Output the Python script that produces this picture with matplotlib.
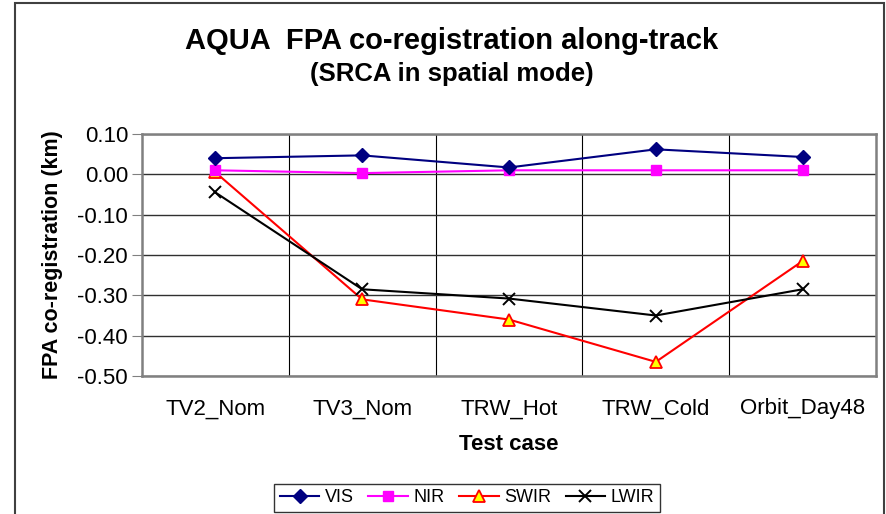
import matplotlib
matplotlib.use("Agg")
from matplotlib import pyplot as plt
from matplotlib.patches import Rectangle
import numpy as np

categories = ["TV2_Nom", "TV3_Nom", "TRW_Hot", "TRW_Cold", "Orbit_Day48"]
yticks = [-0.50, -0.40, -0.30, -0.20, -0.10, 0.00, 0.10]
vis = [0.040, 0.047, 0.017, 0.062, 0.043]
nir = [0.010, 0.003, 0.010, 0.010, 0.010]
swir = [0.005, -0.310, -0.360, -0.465, -0.215]
lwir = [-0.045, -0.285, -0.308, -0.350, -0.285]

plt.rcParams["font.family"] = ["Liberation Sans", "DejaVu Sans"]

fig = plt.figure(figsize=(8.86, 5.14), dpi=100)
ax = fig.add_axes([142 / 886, 1 - 376 / 514, (876 - 142) / 886, (376 - 134) / 514])

x = np.arange(len(categories))
ax.plot(x, vis, color="#000080", lw=1.5, marker="D", ms=7, mfc="#000080", mec="#000080", label="VIS", zorder=5)
ax.plot(x, nir, color="#FF00FF", lw=1.5, marker="s", ms=7, mfc="#FF00FF", mec="#FF00FF", label="NIR", zorder=4)
ax.plot(x, swir, color="#FF0000", lw=1.5, marker="^", ms=8, mfc="#FFFF00", mec="#FF0000", mew=1.3, label="SWIR", zorder=3)
ax.plot(x, lwir, color="#000000", lw=1.5, marker="x", ms=8, mew=1.4, label="LWIR", zorder=3)

ax.set_xlim(-0.5, len(categories) - 0.5)
ax.set_ylim(-0.5, 0.1)
ax.set_yticks(yticks)
ax.set_yticklabels([f"{v:.2f}" for v in yticks], fontsize=16)
ax.set_xticks(x)
ax.set_xticklabels(categories, fontsize=16)
ax.set_xticks(np.arange(0.5, len(categories) - 1, 1), minor=True)
ax.tick_params(axis="x", which="both", length=0, pad=16)
ax.tick_params(axis="y", length=7, color="#808080", pad=3)

ax.grid(axis="y", color="#303030", lw=1.0)
ax.grid(axis="x", which="minor", color="#000000", lw=0.8)
ax.set_axisbelow(True)
for s in ax.spines.values():
    s.set_color("#808080")
    s.set_linewidth(1.8)

ax.set_xlabel("Test case", fontsize=16, fontweight="bold", labelpad=11)
ax.set_ylabel("FPA co-registration (km)", fontsize=15.5, fontweight="bold")
ax.yaxis.set_label_coords((63 - 142) / (876 - 142), 0.5)

fig.text(452 / 886, 1 - 41 / 514, "AQUA  FPA co-registration along-track", ha="center", va="center",
         fontsize=21, fontweight="bold")
fig.text(452 / 886, 1 - 74 / 514, "(SRCA in spatial mode)", ha="center", va="center",
         fontsize=18.5, fontweight="bold")

leg = fig.legend(loc="center", bbox_to_anchor=(467 / 886, 1 - 498 / 514), ncol=4, fontsize=13,
                 frameon=True, fancybox=False, edgecolor="#000000", handlelength=2.2,
                 handletextpad=0.3, columnspacing=0.8, borderpad=0.3, borderaxespad=0)
leg.get_frame().set_linewidth(1.0)

# outer chart frame
fig.patches.append(Rectangle((15 / 886, -0.05), (884 - 15) / 886, 1.05 - 3 / 514,
                             transform=fig.transFigure, fill=False, edgecolor="#404040", lw=1.5))

fig.savefig("out.png", dpi=100)
